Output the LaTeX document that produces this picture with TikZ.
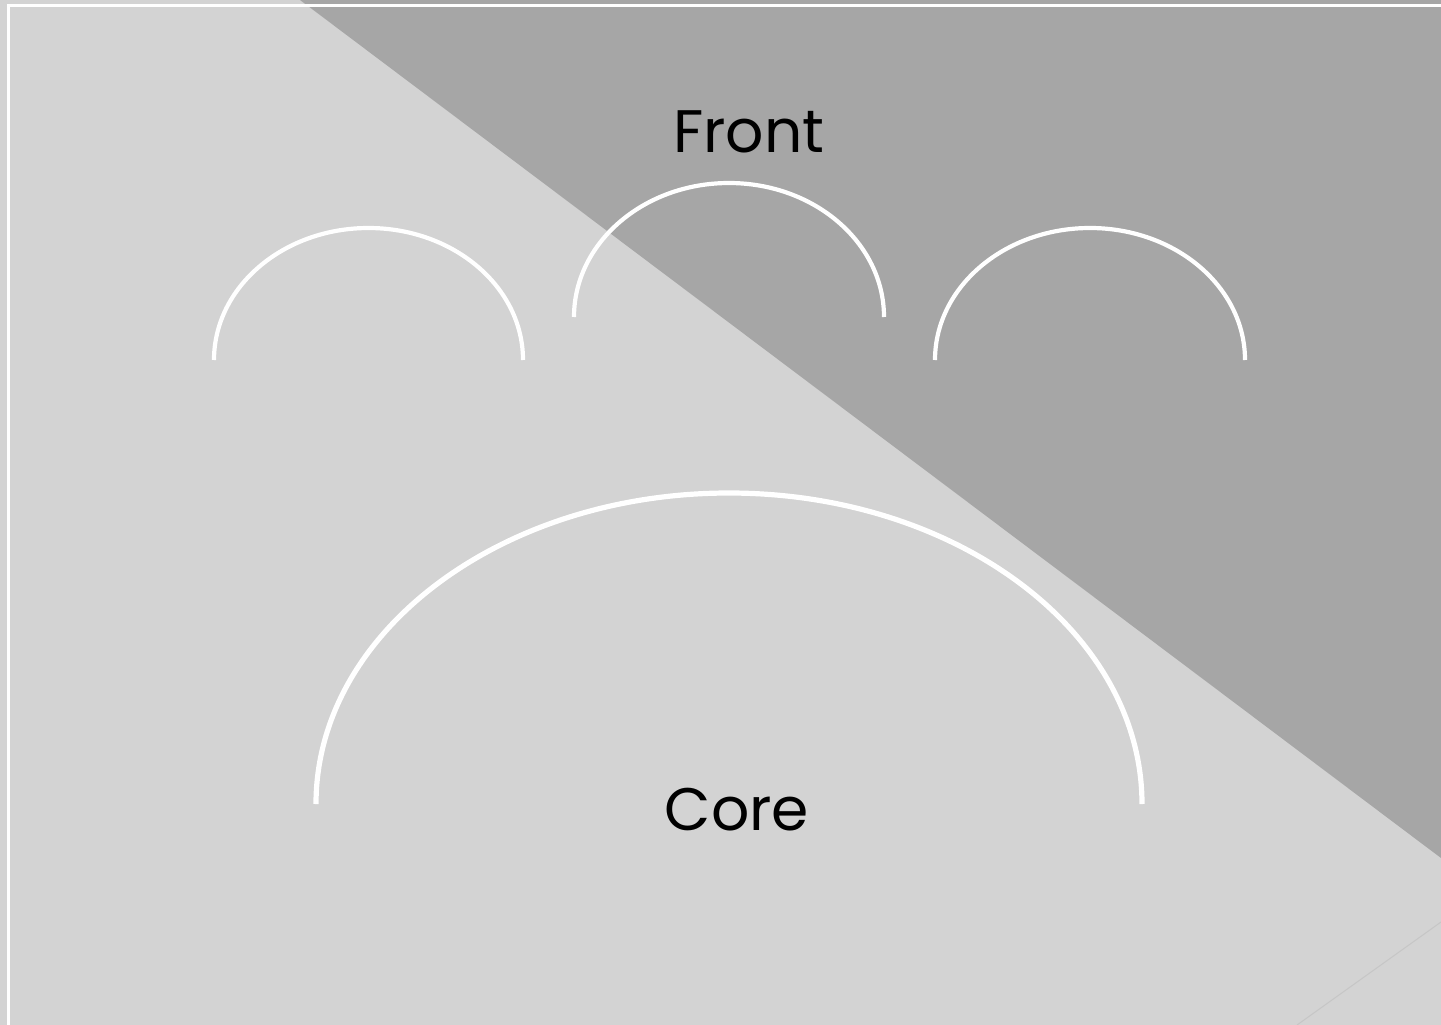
\documentclass[tikz,border=0pt]{standalone}
\usepackage{fontspec}
\setmainfont{Poppins}
\definecolor{lightbg}{RGB}{211,211,211}
\definecolor{darkbg}{RGB}{166,166,166}
\definecolor{faint}{RGB}{198,198,198}
\tikzset{
  arcline/.style={draw=white, line width=4.2pt},
  bigarc/.style={draw=white, line width=5.2pt},
  label/.style={font=\fontsize{60}{64}\selectfont, text=black, inner sep=0pt, anchor=base}
}
\begin{document}
\begin{tikzpicture}[x=1pt,y=-1pt]
\useasboundingbox (0,0) rectangle (1441,1025);
\fill[lightbg] (0,0) rectangle (1441,1025);
\fill[darkbg] (300,0) -- (1441,0) -- (1441,858) -- cycle;
\draw[faint, line width=1pt] (1297,1025) -- (1441,922);
\draw[white, line width=3pt] (8,1030) -- (8,6) -- (1446,6);
% arcs
\draw[arcline] (214,360) arc[start angle=180, end angle=360, x radius=154.5, y radius=132];
\draw[arcline] (574,317) arc[start angle=180, end angle=360, x radius=155, y radius=134];
\draw[arcline] (935,360) arc[start angle=180, end angle=360, x radius=155, y radius=132];
\draw[bigarc] (316,804) arc[start angle=180, end angle=360, x radius=413, y radius=311];
\node[label] (front) at (749,152) {Front};
\node[label] (core) at (737,830) {Core};
\end{tikzpicture}
\end{document}
